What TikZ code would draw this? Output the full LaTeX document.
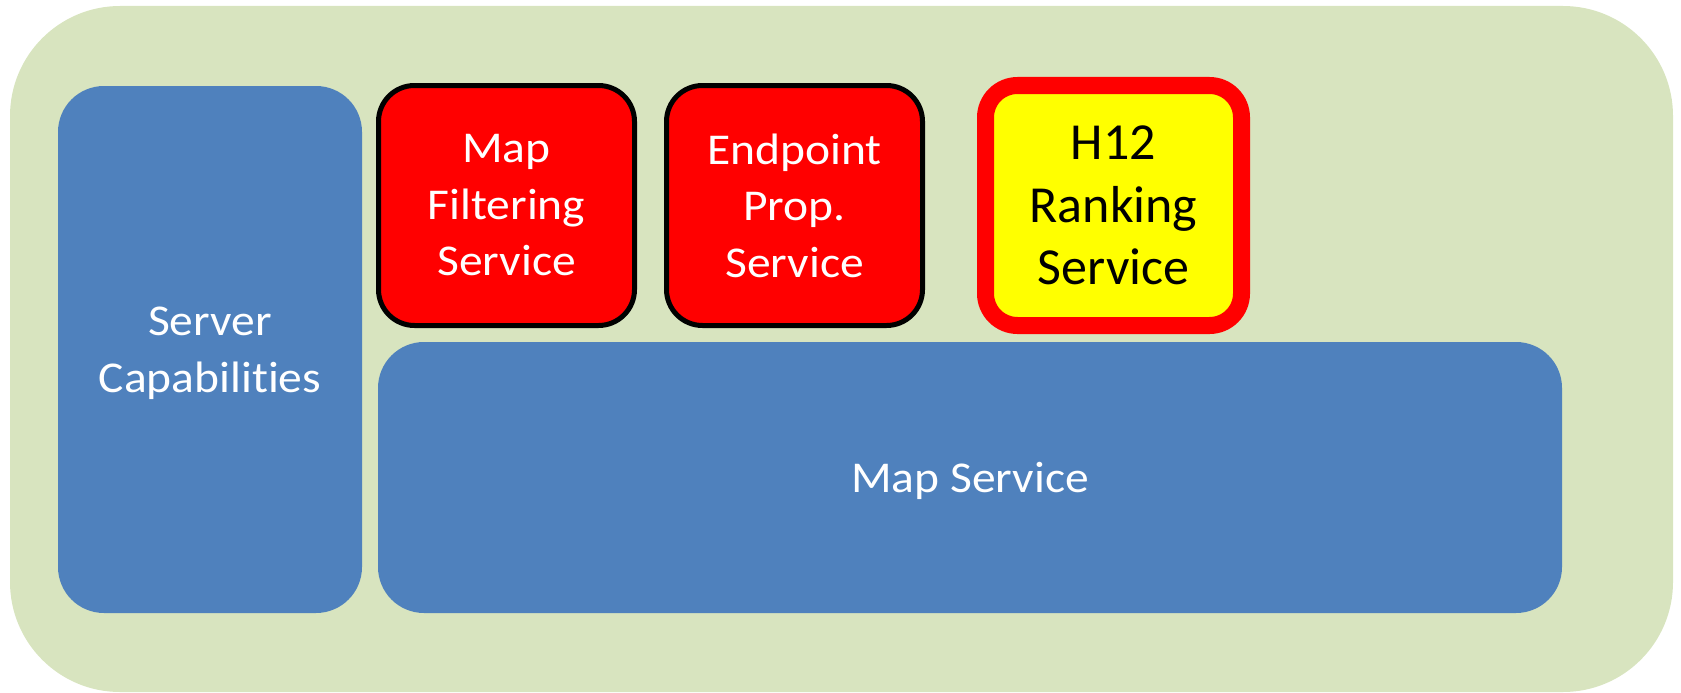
\documentclass[tikz,border=0pt]{standalone}
\usepackage{fontspec}
\setmainfont{Carlito}[Ligatures=NoCommon]
\newfontfamily\widefont[FakeStretch=1.08,Ligatures=NoCommon]{Carlito}
\definecolor{bggreen}{HTML}{D8E4BF}
\definecolor{capblue}{HTML}{4F81BD}
\definecolor{svcred}{HTML}{FF0000}
\definecolor{hlyellow}{HTML}{FFFF00}
% a line whose descenders do not count for vertical centring
\newcommand{\nodepth}[1]{\raisebox{0pt}[\height][0pt]{#1}}
\tikzset{
  panel/.style={rectangle, rounded corners=110pt, fill=bggreen, inner sep=0pt},
  bluebox/.style={rectangle, rounded corners=46pt, fill=capblue, text=white,
    align=center, inner sep=0pt, font=\widefont\fontsize{44}{56.5}\selectfont},
  redbox/.style={rectangle, rounded corners=36pt, fill=svcred, draw=black,
    line width=5pt, text=white, align=center, inner sep=0pt,
    minimum width=256pt, minimum height=240pt,
    font=\widefont\fontsize{44}{56.5}\selectfont},
  hlbox/.style={rectangle, rounded corners=32pt, fill=hlyellow, draw=svcred,
    line width=17pt, text=black, align=center, inner sep=0pt,
    minimum width=256pt, minimum height=240pt,
    font=\fontsize{52}{62.7}\selectfont},
}
\begin{document}
\begin{tikzpicture}[x=1pt, y=-1pt]
  \useasboundingbox (0,0) rectangle (1681,693);
  % background panel
  \node[panel, minimum width=1663pt, minimum height=686pt] (panel) at (841.5,349) {};
  % left column
  \node[bluebox, minimum width=304pt, minimum height=527pt] (caps) at (210,349.5)
    {Server\\\nodepth{Capabilities}};
  % wide base service
  \node[bluebox, minimum width=1184pt, minimum height=271pt] (map) at (970,477.5)
    {\nodepth{Map Service}};
  % services stacked on the map service
  \node[redbox] (filter) at (506.5,205.5) {Map\\Filtering\\Service};
  \node[redbox] (endpoint) at (794.5,205.5) {Endpoint\\Prop.\\Service};
  \node[hlbox] (rank) at (1113.5,205.5) {H12\\Ranking\\Service};
\end{tikzpicture}
\end{document}
